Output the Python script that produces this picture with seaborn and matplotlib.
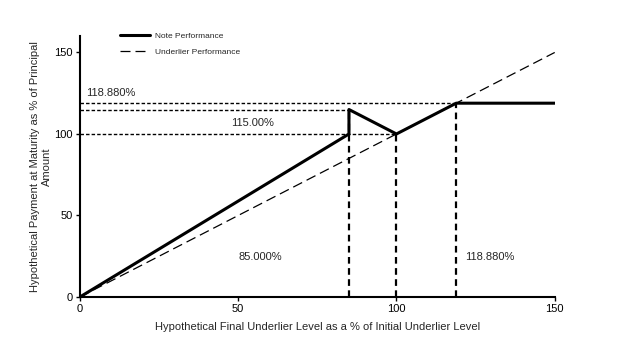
import matplotlib
matplotlib.use("Agg")
import matplotlib.pyplot as plt
import seaborn as sns
import pandas as pd

sns.set_theme(style="white")
plt.rcParams['font.family'] = ['Liberation Sans', 'DejaVu Sans']

note_x = [0, 85, 85, 100, 118.88, 150]
note_y = [0, 100, 115, 100, 118.88, 118.88]
under_x = [0, 150]
under_y = [0, 150]
hlines_y = [118.88, 115, 100]
hlines_xmax = [118.88, 85, 100]
vlines_x = [85, 100, 118.88]
vlines_ymax = [115, 100, 118.88]
xticks = [0, 50, 100, 150]
yticks = [0, 50, 100, 150]

fig = plt.figure(figsize=(6.24, 3.41), dpi=100)
ax = fig.add_axes([0.128, 0.129, 0.761, 0.765])

for y, xm in zip(hlines_y, hlines_xmax):
    ax.plot([0, xm], [y, y], color='black', lw=1.0, linestyle=(0, (2.5, 1.5)), zorder=1)
for x, ym in zip(vlines_x, vlines_ymax):
    ax.plot([x, x], [0, ym], color='black', lw=1.6, linestyle=(0, (3, 2)), zorder=1)

df_note = pd.DataFrame({'x': note_x, 'y': note_y})
df_under = pd.DataFrame({'x': under_x, 'y': under_y})
sns.lineplot(data=df_note, x='x', y='y', sort=False, estimator=None, color='black', lw=2.2, ax=ax,
             label='Note Performance', zorder=3)
sns.lineplot(data=df_under, x='x', y='y', sort=False, estimator=None, color='black', lw=0.9, ax=ax,
             linestyle=(0, (8, 4)), label='Underlier Performance', zorder=2)

ax.set_xlim(0, 150)
ax.set_ylim(0, 160)
ax.set_xticks(xticks)
ax.set_yticks(yticks)
ax.tick_params(axis='both', direction='out', length=3, width=1, labelsize=8, pad=2,
               bottom=True, left=True, colors='black')
for s in ['top', 'right']:
    ax.spines[s].set_visible(False)
for s in ['left', 'bottom']:
    ax.spines[s].set_color('black')
    ax.spines[s].set_linewidth(1.5)

ax.set_xlabel('Hypothetical Final Underlier Level as a % of Initial Underlier Level', fontsize=8, labelpad=6)
ax.set_ylabel('Hypothetical Payment at Maturity as % of Principal\nAmount', fontsize=8, labelpad=2)

ax.text(2, 122, '118.880%', fontsize=8, ha='left', va='bottom')
ax.text(54.6, 107, '115.00%', fontsize=8, ha='center', va='center')
ax.text(64, 24.5, '85.000%', fontsize=8, ha='right', va='center')
ax.text(121.6, 24.5, '118.880%', fontsize=8, ha='left', va='center')

leg = ax.legend(loc='upper left', bbox_to_anchor=(0.068, 1.045), frameon=False, fontsize=6,
                handlelength=3.6, labelspacing=1.0, handletextpad=0.6)

fig.savefig('out.png', dpi=100)
